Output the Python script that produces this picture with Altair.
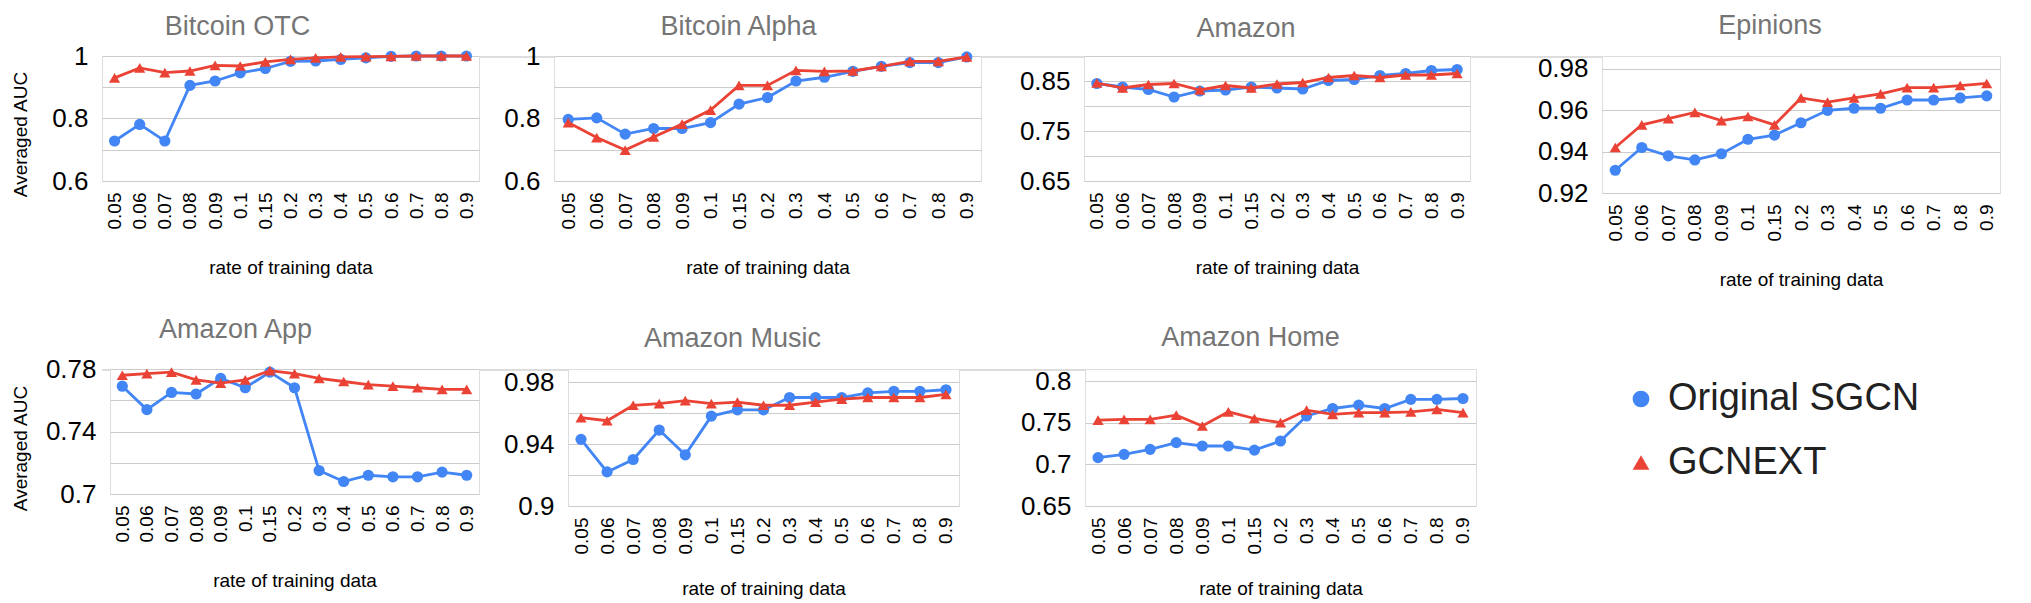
import altair as alt
import pandas as pd

rates = ["0.05", "0.06", "0.07", "0.08", "0.09", "0.1", "0.15", "0.2",
         "0.3", "0.4", "0.5", "0.6", "0.7", "0.8", "0.9"]
series_names = ["Original SGCN", "GCNEXT"]
series_colors = ["#4285F4", "#EA4335"]
series_shapes = ["circle", "triangle-up"]

titles = ["Bitcoin OTC", "Bitcoin Alpha", "Amazon", "Epinions",
          "Amazon App", "Amazon Music", "Amazon Home"]

otc_sgcn = [0.728, 0.781, 0.728, 0.906, 0.920, 0.946, 0.960, 0.983, 0.984, 0.989, 0.994, 0.999, 1.0, 1.0, 1.0]
otc_gcnext = [0.930, 0.962, 0.947, 0.952, 0.970, 0.968, 0.981, 0.989, 0.994, 0.997, 0.998, 0.999, 1.0, 1.0, 1.0]

alpha_sgcn = [0.797, 0.802, 0.750, 0.768, 0.768, 0.787, 0.846, 0.867, 0.920, 0.932, 0.951, 0.967, 0.979, 0.979, 0.997]
alpha_gcnext = [0.787, 0.739, 0.699, 0.741, 0.782, 0.827, 0.906, 0.906, 0.954, 0.951, 0.952, 0.967, 0.983, 0.983, 0.997]

amazon_sgcn = [0.845, 0.838, 0.833, 0.818, 0.830, 0.832, 0.838, 0.836, 0.834, 0.851, 0.853, 0.861, 0.865, 0.871, 0.873]
amazon_gcnext = [0.846, 0.836, 0.843, 0.845, 0.832, 0.841, 0.836, 0.844, 0.847, 0.857, 0.861, 0.857, 0.862, 0.862, 0.865]

epinions_sgcn = [0.931, 0.942, 0.938, 0.936, 0.939, 0.946, 0.948, 0.954, 0.960, 0.961, 0.961, 0.965, 0.965, 0.966, 0.967]
epinions_gcnext = [0.942, 0.953, 0.956, 0.959, 0.955, 0.957, 0.953, 0.966, 0.964, 0.966, 0.968, 0.971, 0.971, 0.972, 0.973]

app_sgcn = [0.769, 0.754, 0.765, 0.764, 0.774, 0.768, 0.778, 0.768, 0.715, 0.708, 0.712, 0.711, 0.711, 0.714, 0.712]
app_gcnext = [0.776, 0.777, 0.778, 0.773, 0.771, 0.773, 0.779, 0.777, 0.774, 0.772, 0.770, 0.769, 0.768, 0.767, 0.767]

music_sgcn = [0.943, 0.922, 0.930, 0.949, 0.933, 0.958, 0.962, 0.962, 0.970, 0.970, 0.970, 0.973, 0.974, 0.974, 0.975]
music_gcnext = [0.957, 0.955, 0.965, 0.966, 0.968, 0.966, 0.967, 0.965, 0.965, 0.967, 0.969, 0.970, 0.970, 0.970, 0.972]

home_sgcn = [0.708, 0.712, 0.718, 0.726, 0.722, 0.722, 0.717, 0.728, 0.758, 0.767, 0.771, 0.767, 0.778, 0.778, 0.779]
home_gcnext = [0.753, 0.754, 0.754, 0.759, 0.746, 0.763, 0.755, 0.750, 0.765, 0.760, 0.762, 0.762, 0.763, 0.766, 0.762]

# y-axis gridline values and labelled values per panel
grid_otc = [0.6, 0.7, 0.8, 0.9, 1.0]
labels_otc = [0.6, 0.8, 1.0]
grid_alpha = [0.6, 0.7, 0.8, 0.9, 1.0]
labels_alpha = [0.6, 0.8, 1.0]
grid_amazon = [0.65, 0.7, 0.75, 0.8, 0.85, 0.9]
labels_amazon = [0.65, 0.75, 0.85]
grid_epinions = [0.92, 0.94, 0.96, 0.98]
labels_epinions = [0.92, 0.94, 0.96, 0.98]
grid_app = [0.70, 0.72, 0.74, 0.76, 0.78]
labels_app = [0.70, 0.74, 0.78]
grid_music = [0.90, 0.92, 0.94, 0.96, 0.98]
labels_music = [0.90, 0.94, 0.98]
grid_home = [0.65, 0.70, 0.75, 0.80]
labels_home = [0.65, 0.70, 0.75, 0.80]

FONT = "Liberation Sans"

legend = alt.Legend(title=None, orient="none", legendX=537, legendY=11,
                    labelFontSize=38, labelColor="#212121", labelFont=FONT,
                    labelLimit=500, symbolSize=280, labelOffset=8, rowPadding=25.5,
                    padding=0, symbolStrokeWidth=0, symbolOpacity=1)


def panel(title, sgcn, gcnext, grid, labels, domain, width, height,
          t_offset, t_dx, ytitle=None, ytx=0, yty=0, xtitle_pad=30, show_legend=False):
    df = pd.DataFrame({
        "rate": rates * 2,
        "value": sgcn + gcnext,
        "series": [series_names[0]] * len(rates) + [series_names[1]] * len(rates),
    })
    label_expr = "indexof(%s, datum.value) >= 0 ? format(datum.value, '~g') : ''" % (
        "[" + ", ".join(repr(v) for v in labels) + "]")
    yaxis_kw = dict(values=grid, labelExpr=label_expr, labelFontSize=26,
                    labelPadding=14, labelColor="black", labelFont=FONT,
                    grid=True, gridColor="#cccccc", gridWidth=1,
                    domain=False, ticks=False, tickSize=0)
    if ytitle:
        yaxis_kw.update(title=ytitle, titleX=ytx, titleY=yty, titleFontSize=19,
                        titleFontWeight="normal", titleColor="black", titleFont=FONT,
                        titleAngle=270, titleAlign="center", titleBaseline="bottom")
    else:
        yaxis_kw.update(title=None)
    x = alt.X("rate:N", scale=alt.Scale(type="point", padding=0.5, domain=rates),
              axis=alt.Axis(title="rate of training data", titleFontSize=19,
                            titleFontWeight="normal", titleColor="black", titleFont=FONT,
                            titlePadding=xtitle_pad, labelAngle=270, labelFontSize=19,
                            labelColor="black", labelFont=FONT, labelPadding=11,
                            grid=False, domain=False, ticks=False, tickSize=0))
    y = alt.Y("value:Q", scale=alt.Scale(domain=domain, nice=False, zero=False),
              axis=alt.Axis(**yaxis_kw))
    lg = legend if show_legend else None
    base = alt.Chart(df).encode(x=x, y=y)
    layers = []
    for name in series_names:
        sub = base.transform_filter(alt.datum.series == name)
        layers.append(sub.mark_line(strokeWidth=2.8).encode(
            stroke=alt.Stroke("series:N", scale=alt.Scale(domain=series_names, range=series_colors),
                              legend=None)))
        layers.append(sub.mark_point(filled=True, opacity=1, size=125).encode(
            color=alt.Color("series:N", scale=alt.Scale(domain=series_names, range=series_colors),
                            legend=lg),
            shape=alt.Shape("series:N", scale=alt.Scale(domain=series_names, range=series_shapes),
                            legend=lg)))
    return alt.layer(*layers).properties(
        width=width, height=height,
        title=alt.TitleParams(text=title, fontSize=27, color="#757575", font=FONT,
                              fontWeight="normal", anchor="middle", frame="group",
                              baseline="alphabetic", offset=t_offset, dx=t_dx))


def spacer(w):
    return alt.Chart(pd.DataFrame({"v": [0]})).mark_point(opacity=0).encode(
        x=alt.value(0), y=alt.value(0)).properties(width=w, height=1)


p1 = panel(titles[0], otc_sgcn, otc_gcnext, grid_otc, labels_otc, [0.6, 1.0], 377, 125, -19, -53,
           ytitle="Averaged AUC", ytx=-72, yty=78)
p2 = panel(titles[1], alpha_sgcn, alpha_gcnext, grid_alpha, labels_alpha, [0.6, 1.0], 427, 125, -19, -29)
p3 = panel(titles[2], amazon_sgcn, amazon_gcnext, grid_amazon, labels_amazon, [0.65, 0.9], 386, 125, -8, -31)
p4 = panel(titles[3], epinions_sgcn, epinions_gcnext, grid_epinions, labels_epinions,
           [0.92, 0.98629], 398, 137, -5, -31)
p5 = panel(titles[4], app_sgcn, app_gcnext, grid_app, labels_app, [0.70, 0.78], 369, 125, -9, -59,
           ytitle="Averaged AUC", ytx=-80, yty=79, xtitle_pad=30)
p6 = panel(titles[5], music_sgcn, music_gcnext, grid_music, labels_music, [0.90, 0.98839], 391, 137, -5, -31,
           xtitle_pad=26)
p7 = panel(titles[6], home_sgcn, home_gcnext, grid_home, labels_home, [0.65, 0.8144], 391, 137, -5, -30,
           xtitle_pad=26, show_legend=True)

row1 = alt.hconcat(p1, spacer(75), p2, spacer(103), p3, spacer(132), p4,
                   spacing=0, bounds="flush")
row2 = alt.hconcat(spacer(8), p5, spacer(89), p6, spacer(126), p7,
                   spacing=0, bounds="flush").resolve_legend(color="independent", shape="independent")

chart = alt.vconcat(row1, row2, spacing=24,
                    padding={"top": 3, "left": 2, "right": 0, "bottom": 0}).resolve_legend(
    color="independent", shape="independent"
).configure_view(strokeWidth=0).configure(background="white")

chart.save("out.html", embed_options={"renderer": "svg", "actions": False})
